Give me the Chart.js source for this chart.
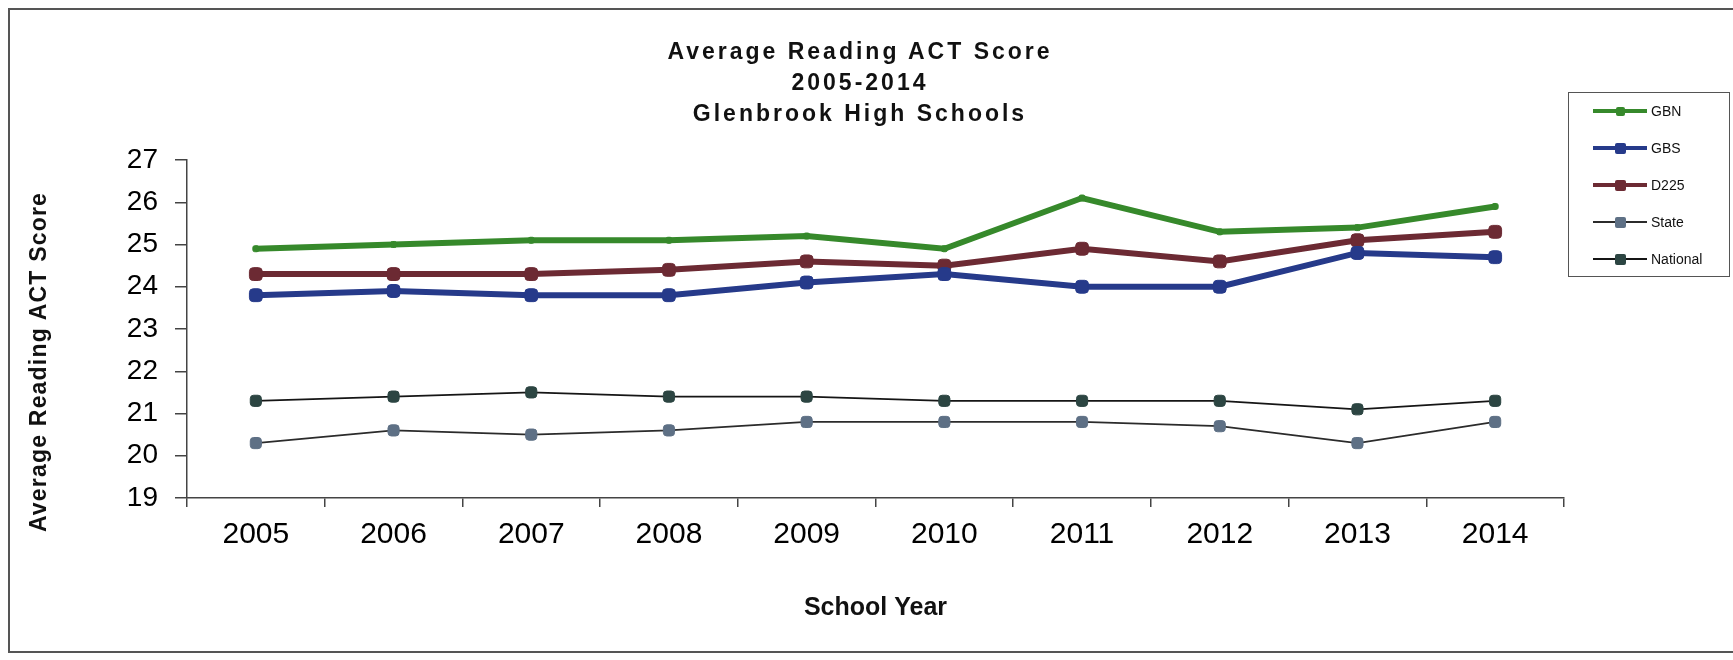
<!DOCTYPE html>
<html>
<head>
<meta charset="utf-8">
<script src="https://cdn.jsdelivr.net/npm/chart.js@4.4.1/dist/chart.umd.min.js"></script>
<style>
  body { margin: 0; background: #fff; }
  #wrap { position: relative; width: 1733px; height: 660px; font-family: "Liberation Sans", Arial, sans-serif; color: #111; }
  #frame { position: absolute; left: 8px; top: 8px; width: 1730px; height: 645px; border: 2px solid #555; border-right: none; box-sizing: border-box; }
  #chart { position: absolute; left: 0; top: 0; }
  #title { position: absolute; left: 507px; top: 36px; width: 700px; padding-left: 3px; text-align: center;
           font-weight: bold; font-size: 23px; line-height: 31px; letter-spacing: 3px; }
  #ytitle { position: absolute; left: -172px; top: 347px; width: 420px; height: 30px; line-height: 30px; text-align: center;
            font-weight: bold; font-size: 23px; letter-spacing: 1.2px; transform: rotate(-90deg); }
  #legend { position: absolute; left: 1568px; top: 92px; width: 162px; height: 185px; border: 1px solid #555; box-sizing: border-box; }
  .item { position: absolute; left: 0; width: 160px; height: 20px; }
  .item .ln { position: absolute; left: 24px; width: 54px; }
  .item .mk { position: absolute; border-radius: 2px; }
  .item .tx { position: absolute; left: 82px; top: 0; line-height: 20px; font-size: 14px; }
</style>
</head>
<body>
<div id="wrap">
  <div id="frame"></div>
  <canvas id="chart" width="1733" height="660"></canvas>
  <div id="title">Average Reading ACT Score<br>2005-2014<br>Glenbrook High Schools</div>
  <div id="ytitle">Average Reading ACT Score</div>
  <div id="legend"></div>
</div>
<script>
// data
const years = ['2005', '2006', '2007', '2008', '2009', '2010', '2011', '2012', '2013', '2014'];
const gbn = [24.9, 25.0, 25.1, 25.1, 25.2, 24.9, 26.1, 25.3, 25.4, 25.9];
const gbs = [23.8, 23.9, 23.8, 23.8, 24.1, 24.3, 24.0, 24.0, 24.8, 24.7];
const d225 = [24.3, 24.3, 24.3, 24.4, 24.6, 24.5, 24.9, 24.6, 25.1, 25.3];
const state = [20.3, 20.6, 20.5, 20.6, 20.8, 20.8, 20.8, 20.7, 20.3, 20.8];
const national = [21.3, 21.4, 21.5, 21.4, 21.4, 21.3, 21.3, 21.3, 21.1, 21.3];
const seriesNames = ['GBN', 'GBS', 'D225', 'State', 'National'];
const yTicks = { min: 19, max: 27, step: 1 };

const font = '"Liberation Sans", Arial, sans-serif';

const styles = [
    { line: '#36892b', mark: '#36892b', width: 6, r: 3.5 },
    { line: '#263a8a', mark: '#263a8a', width: 6, r: 7.5 },
    { line: '#6c2a33', mark: '#6c2a33', width: 6, r: 7.5 },
    { line: '#2b2b2b', mark: '#5e7085', width: 1.8, r: 6.5 },
    { line: '#151515', mark: '#2c4542', width: 1.8, r: 6.5 }
];
const values = [gbn, gbs, d225, state, national];

const datasets = seriesNames.map((name, i) => ({
    label: name,
    data: values[i],
    borderColor: styles[i].line,
    borderWidth: styles[i].width,
    backgroundColor: styles[i].mark,
    pointBackgroundColor: styles[i].mark,
    pointBorderColor: styles[i].mark,
    pointBorderWidth: 1,
    pointStyle: 'rectRounded',
    pointRadius: styles[i].r,
    tension: 0
}));

// html legend, box with line + marker like the original
const legend = document.getElementById('legend');
seriesNames.forEach((name, i) => {
    const s = styles[i];
    const item = document.createElement('div');
    item.className = 'item';
    item.style.top = (8 + i * 37) + 'px';
    const ln = document.createElement('div');
    ln.className = 'ln';
    const lw = Math.max(2, Math.round(s.width * 0.6));
    ln.style.height = lw + 'px';
    ln.style.top = (10 - lw / 2) + 'px';
    ln.style.background = s.line;
    const mk = document.createElement('div');
    mk.className = 'mk';
    const sz = i === 0 ? 9 : 11;
    mk.style.width = sz + 'px';
    mk.style.height = sz + 'px';
    mk.style.left = (51 - sz / 2) + 'px';
    mk.style.top = (10 - sz / 2) + 'px';
    mk.style.background = s.mark;
    const tx = document.createElement('div');
    tx.className = 'tx';
    tx.textContent = name;
    item.appendChild(ln);
    item.appendChild(mk);
    item.appendChild(tx);
    legend.appendChild(item);
});

new Chart(document.getElementById('chart'), {
    type: 'line',
    data: { labels: years, datasets: datasets },
    options: {
        responsive: false,
        animation: false,
        layout: { padding: { left: 0, right: 169, top: 160, bottom: 0 } },
        plugins: {
            legend: { display: false },
            title: { display: false },
            tooltip: { enabled: false }
        },
        scales: {
            x: {
                offset: true,
                grid: { offset: true, drawOnChartArea: false, tickLength: 9, color: '#444', lineWidth: 1.5 },
                border: { color: '#444', width: 1.5 },
                ticks: { font: { family: font, size: 30 }, color: '#000', padding: 10, maxRotation: 0, autoSkip: false },
                title: { display: true, text: 'School Year', color: '#111',
                         font: { family: font, size: 25, weight: 'bold' }, padding: { top: 0, bottom: 37 } },
                afterFit(scale) { scale.height = 162; scale.paddingLeft = 0; scale.paddingRight = 0; }
            },
            y: {
                min: yTicks.min,
                max: yTicks.max,
                ticks: { stepSize: yTicks.step, font: { family: font, size: 28 }, color: '#000', padding: 17 },
                grid: { drawOnChartArea: false, tickLength: 12, color: '#444', lineWidth: 1.5 },
                border: { color: '#444', width: 1.5 },
                afterFit(scale) { scale.width = 187; scale.paddingTop = 0; scale.paddingBottom = 0; }
            }
        }
    }
});
</script>
</body>
</html>
